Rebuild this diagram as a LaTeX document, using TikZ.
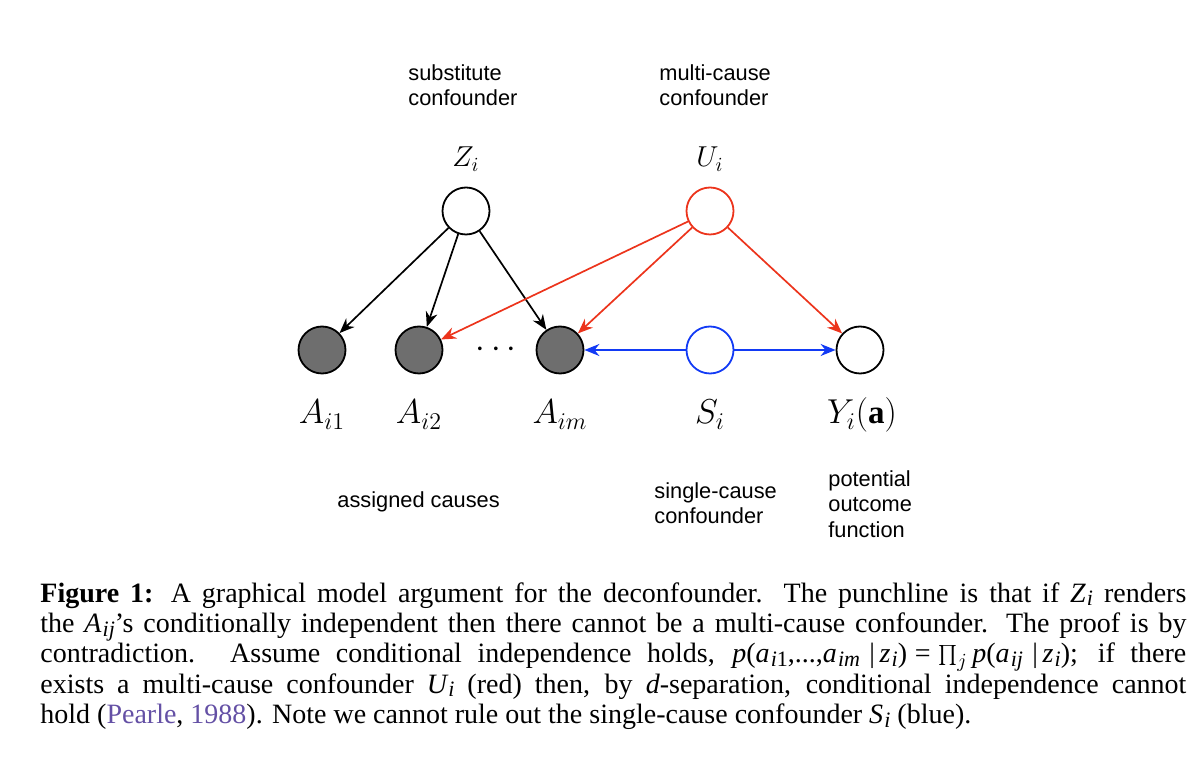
\documentclass[tikz,border=0pt]{standalone}
\usepackage{fontspec}
\setmainfont{Liberation Serif}
\newfontfamily\labelsans{Liberation Sans}
\usetikzlibrary{arrows.meta}
\definecolor{cred}{RGB}{236,52,28}
\definecolor{cblue}{RGB}{18,58,245}
\definecolor{cgray}{RGB}{110,110,110}
\definecolor{citecol}{RGB}{100,80,165}
\newcommand{\ci}[1]{{\itshape #1}}
\newcommand{\csb}[1]{\kern0.04em\raisebox{-0.3ex}{\fontsize{11}{11}\selectfont #1}}
\begin{document}
\begin{tikzpicture}[x=0.5pt,y=-0.5pt,
  var/.style={circle,draw,line width=0.9pt,minimum size=23.5pt,inner sep=0pt},
  obs/.style={var,fill=cgray},
  arr/.style={-{Stealth[length=7.5pt,width=6pt]},line width=0.85pt},
  mlab/.style={font=\fontsize{14}{16}\selectfont,anchor=base,inner sep=0pt},
  blab/.style={font=\fontsize{16.5}{18}\selectfont,anchor=base,inner sep=0pt},
  desc/.style={font=\labelsans\fontsize{10.9}{12.75}\selectfont,align=left,anchor=north west,inner sep=0pt}]
\path[use as bounding box] (0,0) rectangle (1199,758);
% nodes
\node[var] (Z) at (466,211) {};
\node[var,draw=cred] (U) at (710,211) {};
\node[obs] (A1) at (322,350) {};
\node[obs] (A2) at (419,350) {};
\node[obs] (Am) at (560,350) {};
\node[var,draw=cblue] (S) at (710,350) {};
\node[var] (Y) at (860,350) {};
\node[font=\fontsize{16}{18}\selectfont,inner sep=0pt] (dots) at (496,350) {$\cdots$};
% math labels
\node[mlab] (Zl) at (466,167) {$Z_i$};
\node[mlab] (Ul) at (710,167) {$U_i$};
\node[blab] (A1l) at (322,424) {$A_{i1}$};
\node[blab] (A2l) at (419,424) {$A_{i2}$};
\node[blab] (Aml) at (560,424) {$A_{im}$};
\node[blab] (Sl) at (710,424) {$S_i$};
\node[blab] (Yl) at (862,424) {$Y_i(\mathbf{a})$};
% descriptions
\node[desc] (dsub) at (408,64) {substitute\\confounder};
\node[desc] (dmulti) at (659,64) {multi-cause\\confounder};
\node[desc] (dassign) at (337,491) {assigned causes};
\node[desc] (dsingle) at (654,482) {single-cause\\confounder};
\node[desc] (dpot) at (828,470) {potential\\outcome\\function};
% edges
\draw[arr] (Z) -- (A1);
\draw[arr] (Z) -- (A2);
\draw[arr] (Z) -- (Am);
\draw[arr,cred] (U) -- (A2);
\draw[arr,cred] (U) -- (Am);
\draw[arr,cred] (U) -- (Y);
\draw[arr,cblue] (S) -- (Am);
\draw[arr,cblue] (S) -- (Y);
% caption
\node[anchor=north west,inner sep=0pt,text width=573pt,align=justify,
  font=\fontsize{14}{15.15}\selectfont] (cap) at (40,582) {%
\textbf{Figure 1:} A graphical model argument for the deconfounder. The punchline is that if \ci{Z}\csb{\ci{i}} renders\linebreak
the \ci{A}\csb{\ci{ij}}’s conditionally independent then there cannot be a multi-cause confounder. The proof is by\linebreak
contradiction. Assume conditional independence holds, \ci{p}(\ci{a}\csb{\ci{i}1},...,\ci{a}\csb{\ci{im}}\,\,|\,\ci{z}\csb{\ci{i}})\;=\;$\prod_j$\,\ci{p}(\ci{a}\csb{\ci{ij}}\,\,|\,\ci{z}\csb{\ci{i}}); if there\linebreak
exists a multi-cause confounder \ci{U}\csb{\ci{i}} (red) then, by \ci{d}-separation, conditional independence cannot\linebreak
hold ({\color{citecol}Pearle}, {\color{citecol}1988}). Note we cannot rule out the single-cause confounder \ci{S}\csb{\ci{i}} (blue).};
\end{tikzpicture}
\end{document}
